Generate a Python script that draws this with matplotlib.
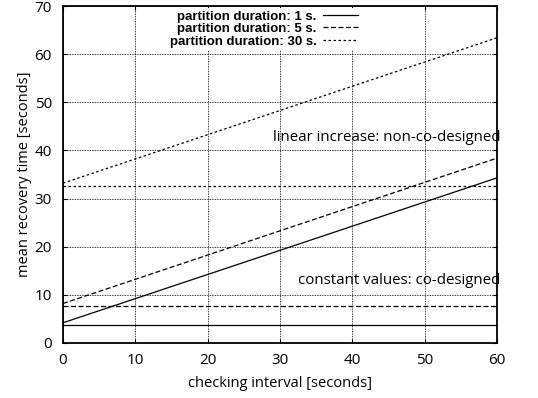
import numpy as np
import matplotlib
matplotlib.use('Agg')
from matplotlib import pyplot as plt

# checking interval [s]
checking = [0, 60]
durations = ['1 s.', '5 s.', '30 s.']
# co-designed: constant recovery time
constant_values = [3.7, 7.7, 32.7]
# non-co-designed: recovery time at interval 0 and 60
linear_start = [4.2, 8.2, 33.2]
linear_end = [34.3, 38.4, 63.4]

styles = ['-', (0, (4, 2)), (0, (2, 2))]

plt.rcParams['font.family'] = ['Open Sans', 'DejaVu Sans']

fig = plt.figure(figsize=(5.38, 3.98), dpi=100)
ax = fig.add_axes([63 / 538, 1 - 343 / 398, 434 / 538, 337 / 398])

for i in range(3):
    ax.plot(checking, [linear_start[i], linear_end[i]], color='black',
            linestyle=styles[i], linewidth=0.9,
            label='partition duration: ' + durations[i])
    ax.plot(checking, [constant_values[i], constant_values[i]], color='black',
            linestyle=styles[i], linewidth=0.9)

ax.set_xlim(0, 60)
ax.set_ylim(0, 70)
ax.set_xticks(range(0, 61, 10))
ax.set_yticks(range(0, 71, 10))
ax.grid(True, color='black', linestyle=(0, (1, 1)), linewidth=0.6)
ax.tick_params(direction='in', length=3, top=True, right=True, labelsize=11)
ax.tick_params(axis='y', pad=8)
ax.tick_params(axis='x', pad=7)
for s in ax.spines.values():
    s.set_linewidth(1.3)

ax.set_xlabel('checking interval [seconds]', fontsize=10.5, labelpad=6)
ax.set_ylabel('mean recovery time [seconds]', fontsize=10.5, labelpad=2)

ax.text(1.007, 42.7, 'linear increase: non-co-designed', transform=ax.get_yaxis_transform(),
        ha='right', va='center', fontsize=10.8)
ax.text(1.007, 12.9, 'constant values: co-designed', transform=ax.get_yaxis_transform(),
        ha='right', va='center', fontsize=10.8)

leg = ax.legend(loc='upper right', bbox_to_anchor=(0.685, 0.995), frameon=True,
                markerfirst=False, handlelength=2.6, handletextpad=0.5,
                labelspacing=0.02, borderpad=0.2, borderaxespad=0, fancybox=False,
                prop={'family': 'Liberation Sans', 'weight': 'bold', 'size': 9.5})
leg.get_frame().set_edgecolor('none')
leg.get_frame().set_facecolor('white')
leg.get_frame().set_alpha(1)
for t in leg.get_texts():
    t.set_ha('right')

fig.savefig('out.png', dpi=100)
